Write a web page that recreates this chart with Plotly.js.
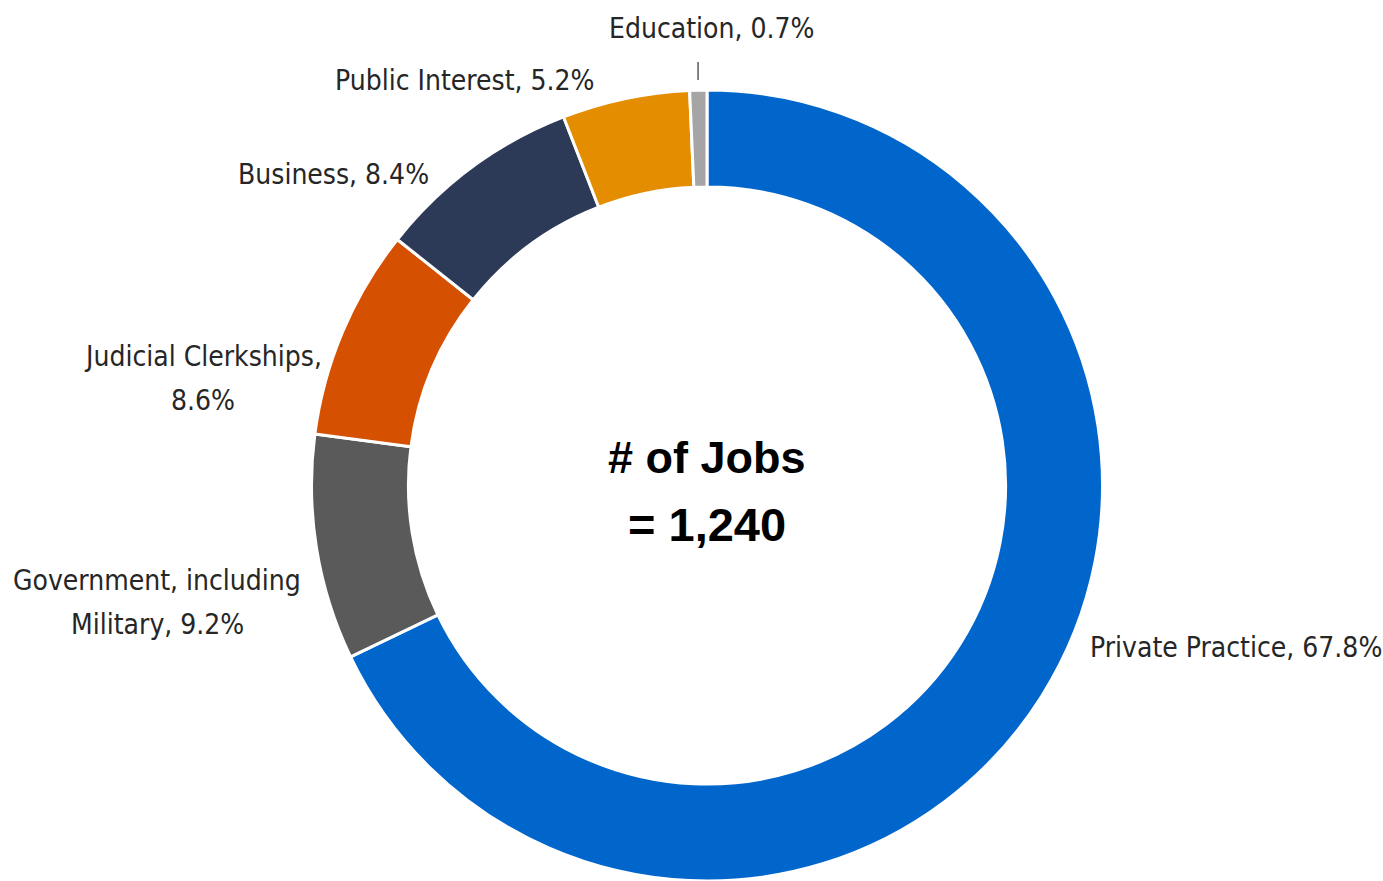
<!DOCTYPE html>
<html>
<head>
<meta charset="utf-8">
<script src="https://cdn.plot.ly/plotly-3.0.1.min.js"></script>
<style>html,body{margin:0;padding:0;background:#fff;}#chart{width:1383px;height:881px;}</style>
</head>
<body>
<div id="chart"></div>
<script>
const categories = ["Private Practice", "Government, including Military", "Judicial Clerkships", "Business", "Public Interest", "Education"];
const labelLines = ["Private Practice, 67.8%", "Government, including<br>Military, 9.2%", "Judicial Clerkships,<br>8.6%", "Business, 8.4%", "Public Interest, 5.2%", "Education, 0.7%"];
const percents = [67.8, 9.2, 8.6, 8.4, 5.2, 0.7];
const colors = ["#0066CC", "#5A5A5A", "#D55000", "#2C3A57", "#E48D00", "#A5A5A5"];
const totalJobs = "1,240";

const W = 1383, H = 881;
const cx = 707, cy = 486, R = 396;
const lineGap = 44;

// label placement (pixel anchors), style only
const labelPos = [
  {x: 1088, y: 647, xa: "left"},
  {x: 157, y: 602, xa: "center"},
  {x: 203, y: 378, xa: "center"},
  {x: 431, y: 175, xa: "right"},
  {x: 597, y: 80, xa: "right"},
  {x: 711, y: 28, xa: "center"}
];

const labelFont = {family: "Liberation Sans Narrow, DejaVu Sans Condensed, sans-serif", size: 28, color: "#262626"};

const annotations = [];
categories.forEach((c, i) => {
  const lines = labelLines[i].split("<br>");
  lines.forEach((ln, k) => {
    const py = labelPos[i].y + (k - (lines.length - 1) / 2) * lineGap;
    annotations.push({
      xref: "paper", yref: "paper",
      x: labelPos[i].x / W, y: 1 - py / H,
      xanchor: labelPos[i].xa, yanchor: "middle",
      text: ln, showarrow: false, font: labelFont
    });
  });
});

annotations.push({
  xref: "paper", yref: "paper", x: cx / W, y: 1 - 457 / H,
  xanchor: "center", yanchor: "middle", showarrow: false,
  text: "<b># of Jobs</b>",
  font: {family: "Liberation Sans, Arial, sans-serif", size: 45, color: "#000"}
});
annotations.push({
  xref: "paper", yref: "paper", x: cx / W, y: 1 - 524 / H,
  xanchor: "center", yanchor: "middle", showarrow: false,
  text: "<b>= " + totalJobs + "</b>",
  font: {family: "Liberation Sans, Arial, sans-serif", size: 47, color: "#000"}
});

// leader line for the smallest slice, from its mid angle
const sum = percents.reduce((a, b) => a + b, 0);
let cum = 0;
const mids = percents.map(p => { const m = (cum + p / 2) / sum; cum += p; return m * 2 * Math.PI; });
const eduAng = mids[5];
const shapes = [{
  type: "line", xref: "paper", yref: "paper",
  x0: (cx + (R + 10) * Math.sin(eduAng)) / W, y0: 1 - (cy - (R + 10) * Math.cos(eduAng)) / H,
  x1: (cx + (R + 10) * Math.sin(eduAng)) / W, y1: 1 - (cy - (R + 28) * Math.cos(eduAng)) / H,
  line: {color: "#595959", width: 1.5}
}];

const trace = {
  type: "pie",
  labels: categories,
  values: percents,
  sort: false,
  direction: "clockwise",
  rotation: 0,
  hole: 0.755,
  textinfo: "none",
  hoverinfo: "label+percent",
  marker: {colors: colors, line: {color: "#ffffff", width: 3}},
  domain: {x: [(cx - R) / W, (cx + R) / W], y: [0, (2 * R - 1) / H]}
};

Plotly.newPlot("chart", [trace], {
  width: W, height: H,
  margin: {l: 0, r: 0, t: 0, b: 0},
  showlegend: false,
  paper_bgcolor: "#fff",
  annotations: annotations,
  shapes: shapes
}, {displayModeBar: false, staticPlot: true});
</script>
</body>
</html>
